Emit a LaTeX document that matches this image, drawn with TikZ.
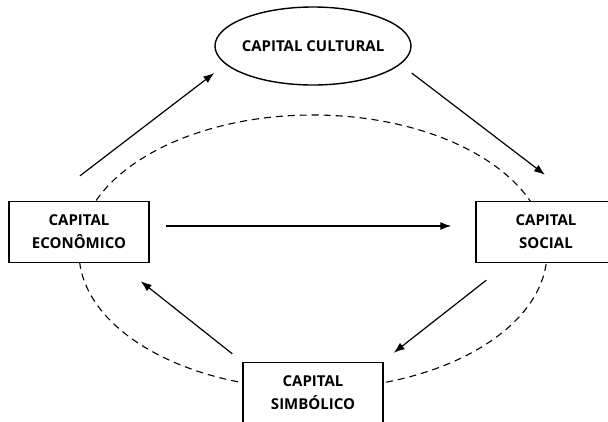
\documentclass[tikz,border=0pt]{standalone}
\usepackage{fontspec}
\setmainfont{Open Sans}
\usetikzlibrary{shapes.geometric,arrows.meta}

\tikzset{
  capbox/.style={draw, line width=1.4pt, minimum width=140pt, minimum height=61pt,
    align=center, font=\bfseries\fontsize{15}{23}\selectfont},
  capoval/.style={draw, ellipse, line width=1.4pt, minimum width=196pt, minimum height=78pt,
    font=\bfseries\fontsize{15}{23}\selectfont},
  flow/.style={line width=1.2pt, -{Latex[length=11pt,width=8pt]}}
}

\begin{document}
\begin{tikzpicture}[x=1pt, y=-1pt]

  \useasboundingbox (0,0) rectangle (608,421);
  \clip (0,0) rectangle (608,421);

  % -- Dashed ring behind the four capitals --
  \draw[dashed, dash pattern=on 7pt off 5pt, line width=1.1pt] (313,252) ellipse [x radius=234, y radius=137];

  % -- Capitals --
  \node[capoval, fill=white] (cul) at (313,46) {\makebox[100pt]{CAPITAL CULTURAL}};
  \node[capbox, fill=white] (eco) at (79,232) {CAPITAL\\ECONÔMICO};
  \node[capbox, fill=white] (soc) at (546,232) {CAPITAL\\SOCIAL};
  \node[capbox, fill=white] (sym) at (313,393) {CAPITAL\\SIMBÓLICO};

  % -- Conversions --
  \draw[flow] ([shift={(1,-25)}]eco.north) -- ([shift={(0,27)}]cul.west);
  \draw[flow] ([shift={(0,27)}]cul.east) -- ([shift={(-1,-26)}]soc.north);
  \draw[flow] ([shift={(16,-6)}]eco.east) -- ([shift={(-24,-6)}]soc.west);
  \draw[flow] ([shift={(11,17)}]soc.south west) -- ([shift={(10,-9)}]sym.north east);
  \draw[flow] ([shift={(-10,-8)}]sym.north west) -- ([shift={(-9,18)}]eco.south east);

\end{tikzpicture}
\end{document}
